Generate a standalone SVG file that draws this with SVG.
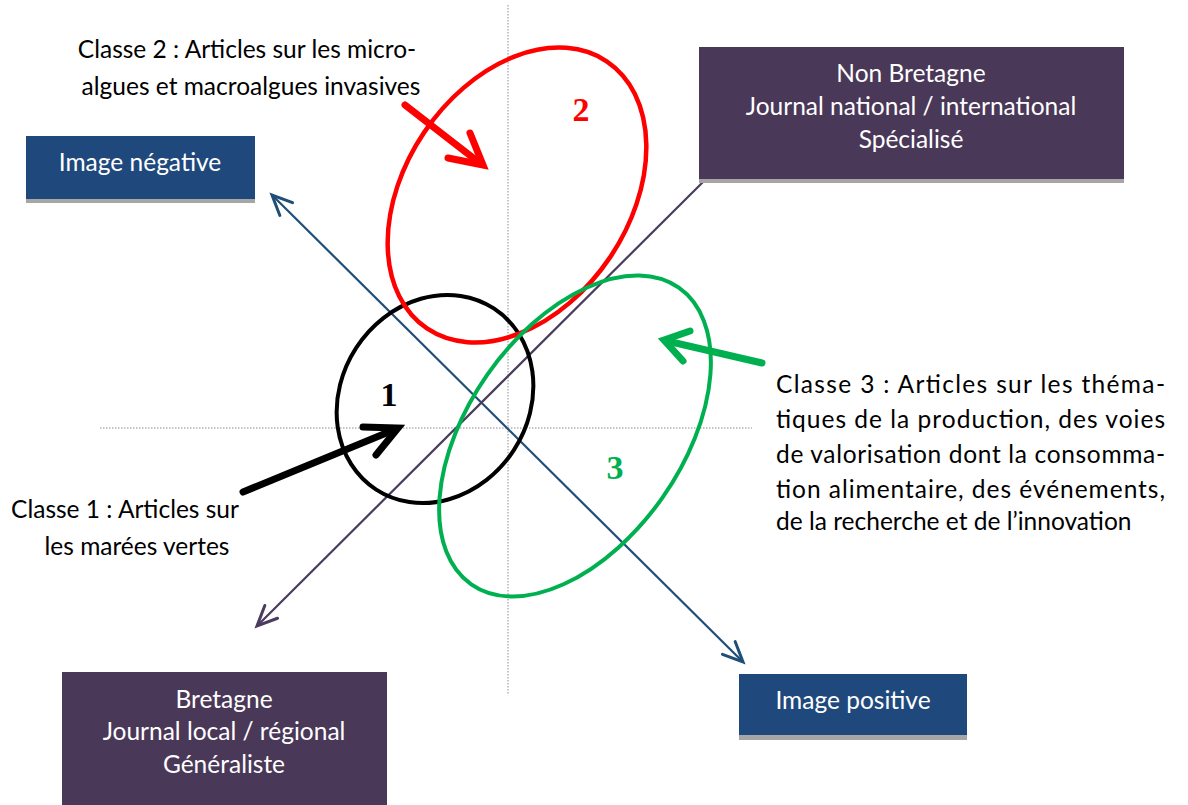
<svg xmlns="http://www.w3.org/2000/svg" width="1188" height="805" viewBox="0 0 1188 805">
<style>
.t{font-family:Lato,"Liberation Sans",sans-serif;font-size:24.5px;fill:#000}
.bt{font-family:Lato,"Liberation Sans",sans-serif;font-size:24.5px;fill:#fff;text-anchor:middle}
.num{font-family:"Liberation Serif",serif;font-weight:bold;font-size:34px;text-anchor:middle}
.axis{stroke:#8c8c8c;stroke-width:1;stroke-dasharray:1.5,1.5;fill:none}
.blue{fill:#1f497d}
.purple{fill:#4a3858}
.shadow{fill:#a6a6a6}
.thick{fill:none;stroke-width:7;stroke-linecap:round;stroke-linejoin:miter}
</style>
<defs>
<marker id="ahb" markerUnits="userSpaceOnUse" viewBox="-24 -12 28 24" refX="0" refY="0" markerWidth="28" markerHeight="24" orient="auto-start-reverse">
<path d="M-20,-9 L0,0 L-20,9" fill="none" stroke="#1f4e79" stroke-width="3" stroke-linecap="round"/>
</marker>
<marker id="ahp" markerUnits="userSpaceOnUse" viewBox="-24 -12 28 24" refX="0" refY="0" markerWidth="28" markerHeight="24" orient="auto">
<path d="M-20,-9 L0,0 L-20,9" fill="none" stroke="#4b3b5e" stroke-width="3" stroke-linecap="round"/>
</marker>
</defs>
<rect width="1188" height="805" fill="#fff"/>
<g id="axes">
<line class="axis" x1="508" y1="5" x2="508" y2="695"/>
<line class="axis" x1="100" y1="428" x2="752" y2="428"/>
</g>
<g id="connectors">
<line x1="272" y1="195" x2="743" y2="662" stroke="#1f4e79" stroke-width="2.2" marker-start="url(#ahb)" marker-end="url(#ahb)"/>
<line x1="705" y1="180" x2="257" y2="626" stroke="#4b3b5e" stroke-width="2.2" marker-end="url(#ahp)"/>
<g id="arrow-red" stroke="#ff0000">
<path class="thick" d="M405,105 L481,164"/>
<path class="thick" d="M470,133 L483,165 L448,158"/>
</g>
<g id="arrow-black" stroke="#000">
<path class="thick" d="M243,492 L396,429"/>
<path class="thick" d="M363,427 L398,428 L376,455"/>
</g>
<g id="arrow-green" stroke="#00b050">
<path class="thick" d="M762,363 L667,341"/>
<path class="thick" d="M690,331 L664,340 L683,361"/>
</g>
</g>
<g id="classe1">
<ellipse cx="435" cy="399" rx="108" ry="94" transform="rotate(-57 435 399)" fill="none" stroke="#000" stroke-width="4"/>
<text class="num" x="389" y="406" fill="#000">1</text>
</g>
<g id="classe2">
<ellipse cx="517" cy="195" rx="161" ry="112" transform="rotate(-56 517 195)" fill="none" stroke="#ff0000" stroke-width="4.5"/>
<text class="num" x="581" y="121" fill="#ff0000">2</text>
</g>
<g id="classe3">
<ellipse cx="575" cy="436" rx="181" ry="107" transform="rotate(-55 575 436)" fill="none" stroke="#00b050" stroke-width="4"/>
<text class="num" x="615" y="479" fill="#00b050">3</text>
</g>
<g id="image-negative">
<rect class="shadow" x="26" y="140" width="229" height="63"/>
<rect class="blue" x="26" y="136" width="229" height="63"/>
<text class="bt" x="140" y="171">Image négative</text>
</g>
<g id="image-positive">
<rect class="shadow" x="739" y="678" width="228" height="62"/>
<rect class="blue" x="739" y="674" width="228" height="61"/>
<text class="bt" x="853" y="709">Image positive</text>
</g>
<g id="non-bretagne">
<rect class="shadow" x="699" y="51" width="425" height="132"/>
<rect class="purple" x="699" y="47" width="425" height="132"/>
<text class="bt" x="911" y="82">Non Bretagne</text>
<text class="bt" x="911" y="115">Journal national / international</text>
<text class="bt" x="911" y="148">Spécialisé</text>
</g>
<g id="bretagne">
<rect class="purple" x="62" y="672" width="325" height="133"/>
<text class="bt" x="224" y="708">Bretagne</text>
<text class="bt" x="224" y="740">Journal local / régional</text>
<text class="bt" x="224" y="773">Généraliste</text>
</g>
<g id="label-classe2">
<text class="t" x="247" y="58" text-anchor="middle">Classe 2 : Articles sur les micro-</text>
<text class="t" x="251" y="95" text-anchor="middle">algues et macroalgues invasives</text>
</g>
<g id="label-classe1">
<text class="t" x="125" y="518" text-anchor="middle">Classe 1 : Articles sur</text>
<text class="t" x="137" y="555" text-anchor="middle">les marées vertes</text>
</g>
<g id="label-classe3">
<text class="t" x="776" y="393" textLength="389" lengthAdjust="spacing">Classe 3 : Articles sur les théma-</text>
<text class="t" x="776" y="428" textLength="389" lengthAdjust="spacing">tiques de la production, des voies</text>
<text class="t" x="776" y="463" textLength="389" lengthAdjust="spacing">de valorisation dont la consomma-</text>
<text class="t" x="776" y="498" textLength="389" lengthAdjust="spacing">tion alimentaire, des événements,</text>
<text class="t" x="776" y="530">de la recherche et de l’innovation</text>
</g>
</svg>
